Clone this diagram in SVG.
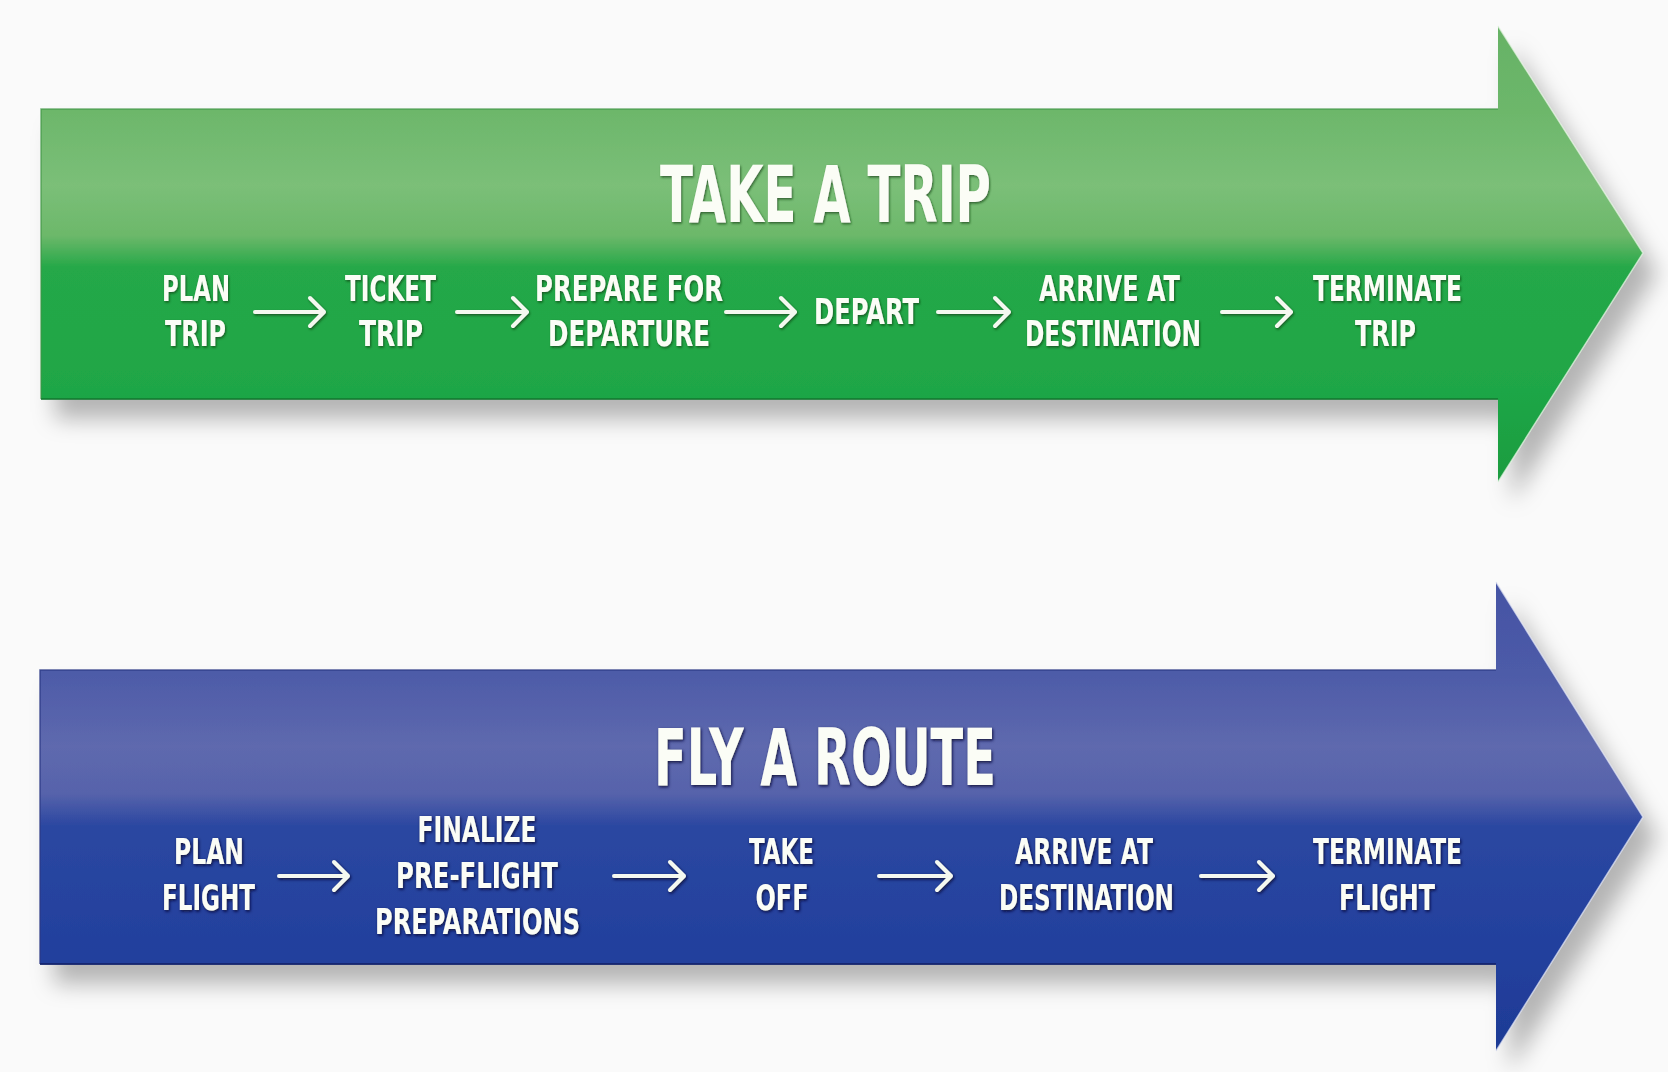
<svg xmlns="http://www.w3.org/2000/svg" width="1668" height="1072" viewBox="0 0 1668 1072">
<style>
.lbl{font-family:"Liberation Sans Narrow","DejaVu Sans Condensed","Liberation Sans",sans-serif;font-weight:bold;font-size:36px;fill:#fbfdf6;text-anchor:middle}
.ttl{font-family:"Liberation Sans Narrow","DejaVu Sans Condensed","Liberation Sans",sans-serif;font-weight:bold;font-size:78px;fill:#fbfdf6;text-anchor:middle}
.g text{filter:url(#tsG)}
.b text{filter:url(#tsB)}
.con path{fill:none;stroke:#f4f8f0;stroke-width:4;stroke-linecap:round;stroke-linejoin:round}
.conG path{filter:url(#tsG)}
.conB path{filter:url(#tsB)}
</style>
<defs>
<linearGradient id="gG" gradientUnits="userSpaceOnUse" x1="0" y1="26" x2="0" y2="482">
<stop offset="0" stop-color="#66b265"/>
<stop offset="0.19" stop-color="#6db76b"/>
<stop offset="0.35" stop-color="#7bbf78"/>
<stop offset="0.46" stop-color="#6cb86a"/>
<stop offset="0.53" stop-color="#25a848"/>
<stop offset="0.8" stop-color="#1fa646"/>
<stop offset="1" stop-color="#1b9c40"/>
</linearGradient>
<linearGradient id="gB" gradientUnits="userSpaceOnUse" x1="0" y1="582" x2="0" y2="1051">
<stop offset="0" stop-color="#4453a4"/>
<stop offset="0.19" stop-color="#4d5ba8"/>
<stop offset="0.35" stop-color="#5e69ae"/>
<stop offset="0.45" stop-color="#5763ab"/>
<stop offset="0.52" stop-color="#2b47a1"/>
<stop offset="0.8" stop-color="#22409d"/>
<stop offset="1" stop-color="#1e3a95"/>
</linearGradient>
<filter id="sh" x="-5%" y="-10%" width="115%" height="130%">
<feDropShadow dx="14" dy="20" stdDeviation="11" flood-color="#000" flood-opacity="0.28"/>
</filter>
<filter id="tsG" x="-10%" y="-20%" width="120%" height="150%">
<feDropShadow dx="1" dy="1.5" stdDeviation="1.2" flood-color="#0c3a18" flood-opacity="0.7"/>
</filter>
<filter id="tsB" x="-10%" y="-20%" width="120%" height="150%">
<feDropShadow dx="1" dy="1.5" stdDeviation="1.6" flood-color="#080c3a" flood-opacity="0.95"/>
</filter>
</defs>
<rect width="1668" height="1072" fill="#fafafa"/>

<g id="trip-arrow">
<polygon points="41,109 1498,109 1498,26 1643,253 1498,482 1498,399 41,399" fill="url(#gG)" filter="url(#sh)"/>
<polyline points="41,399 41,109 1498,109" fill="none" stroke="#3f9446" stroke-width="1.5" opacity="0.7"/>
<line x1="41" y1="399" x2="1498" y2="399" stroke="#137a30" stroke-width="2" opacity="0.8"/>
<polyline points="1498,26 1643,253 1498,482" fill="none" stroke="#e8f5e6" stroke-width="1.5" opacity="0.7"/>
</g>

<g id="route-arrow">
<polygon points="40,670 1496,670 1496,582 1643,817 1496,1051 1496,964 40,964" fill="url(#gB)" filter="url(#sh)"/>
<polyline points="40,964 40,670 1496,670" fill="none" stroke="#2c3a86" stroke-width="1.5" opacity="0.8"/>
<line x1="40" y1="964" x2="1496" y2="964" stroke="#14246e" stroke-width="2" opacity="0.9"/>
<polyline points="1496,582 1643,817 1496,1051" fill="none" stroke="#e6e8f5" stroke-width="1.5" opacity="0.7"/>
</g>

<g class="g">
<g id="title-trip"><text class="ttl" x="825.5" y="222" textLength="331" lengthAdjust="spacingAndGlyphs">TAKE A TRIP</text></g>
<g id="plan-trip"><text class="lbl" x="196" y="301" textLength="68" lengthAdjust="spacingAndGlyphs">PLAN</text><text class="lbl" x="195.5" y="346" textLength="61" lengthAdjust="spacingAndGlyphs">TRIP</text></g>
<g id="ticket-trip"><text class="lbl" x="390.5" y="301" textLength="91" lengthAdjust="spacingAndGlyphs">TICKET</text><text class="lbl" x="391" y="346" textLength="64" lengthAdjust="spacingAndGlyphs">TRIP</text></g>
<g id="prepare-departure"><text class="lbl" x="629" y="301" textLength="188" lengthAdjust="spacingAndGlyphs">PREPARE FOR</text><text class="lbl" x="629" y="346" textLength="162" lengthAdjust="spacingAndGlyphs">DEPARTURE</text></g>
<g id="depart"><text class="lbl" x="866.5" y="324" textLength="105" lengthAdjust="spacingAndGlyphs">DEPART</text></g>
<g id="arrive-trip"><text class="lbl" x="1109.5" y="301" textLength="141" lengthAdjust="spacingAndGlyphs">ARRIVE AT</text><text class="lbl" x="1113" y="346" textLength="176" lengthAdjust="spacingAndGlyphs">DESTINATION</text></g>
<g id="terminate-trip"><text class="lbl" x="1387.5" y="301" textLength="149" lengthAdjust="spacingAndGlyphs">TERMINATE</text><text class="lbl" x="1385.5" y="346" textLength="61" lengthAdjust="spacingAndGlyphs">TRIP</text></g>
</g>

<g class="b">
<g id="title-route"><text class="ttl" x="825" y="785" textLength="342" lengthAdjust="spacingAndGlyphs">FLY A ROUTE</text></g>
<g id="plan-flight"><text class="lbl" x="209" y="864" textLength="70" lengthAdjust="spacingAndGlyphs">PLAN</text><text class="lbl" x="208.5" y="910" textLength="93" lengthAdjust="spacingAndGlyphs">FLIGHT</text></g>
<g id="finalize"><text class="lbl" x="477" y="842" textLength="119" lengthAdjust="spacingAndGlyphs">FINALIZE</text><text class="lbl" x="477" y="888" textLength="162" lengthAdjust="spacingAndGlyphs">PRE-FLIGHT</text><text class="lbl" x="477.5" y="934" textLength="205" lengthAdjust="spacingAndGlyphs">PREPARATIONS</text></g>
<g id="take-off"><text class="lbl" x="781.5" y="864" textLength="65" lengthAdjust="spacingAndGlyphs">TAKE</text><text class="lbl" x="782" y="910" textLength="53" lengthAdjust="spacingAndGlyphs">OFF</text></g>
<g id="arrive-flight"><text class="lbl" x="1084" y="864" textLength="138" lengthAdjust="spacingAndGlyphs">ARRIVE AT</text><text class="lbl" x="1086.5" y="910" textLength="175" lengthAdjust="spacingAndGlyphs">DESTINATION</text></g>
<g id="terminate-flight"><text class="lbl" x="1387.5" y="864" textLength="149" lengthAdjust="spacingAndGlyphs">TERMINATE</text><text class="lbl" x="1387" y="910" textLength="96" lengthAdjust="spacingAndGlyphs">FLIGHT</text></g>
</g>

<g id="connectors" class="con">
<g class="conG">
<path d="M255,312 H324 M310,298 L324,312 L310,326"/>
<path d="M457,312 H527 M513,298 L527,312 L513,326"/>
<path d="M726,312 H795 M781,298 L795,312 L781,326"/>
<path d="M938,312 H1009 M995,298 L1009,312 L995,326"/>
<path d="M1222,312 H1291 M1277,298 L1291,312 L1277,326"/>
</g>
<g class="conB">
<path d="M279,876 H348 M334,862 L348,876 L334,890"/>
<path d="M614,876 H684 M670,862 L684,876 L670,890"/>
<path d="M879,876 H951 M937,862 L951,876 L937,890"/>
<path d="M1201,876 H1273 M1259,862 L1273,876 L1259,890"/>
</g>
</g>
</svg>
